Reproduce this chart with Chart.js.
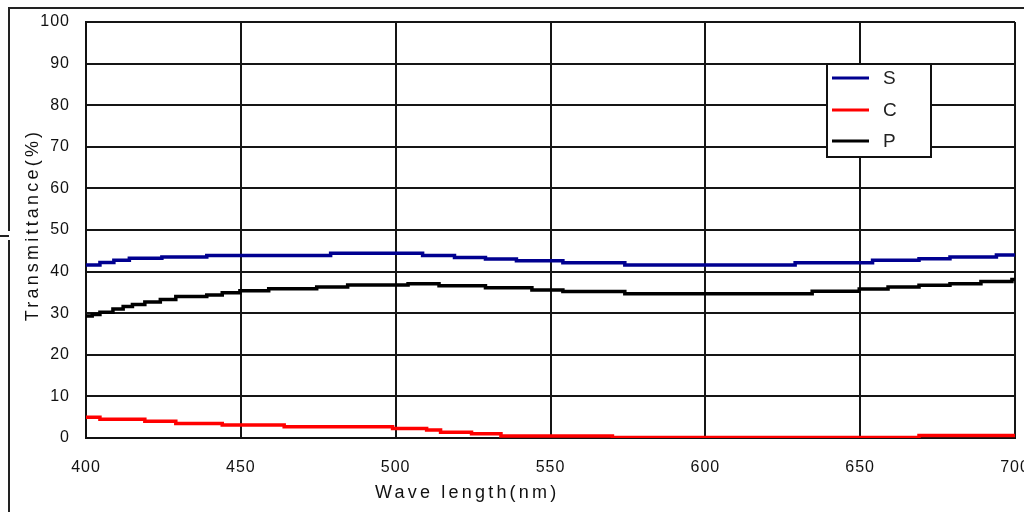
<!DOCTYPE html>
<html><head><meta charset="utf-8">
<script src="https://cdn.jsdelivr.net/npm/chart.js@4/dist/chart.umd.min.js"></script>
<style>html,body{margin:0;padding:0;background:#fff}#wrap{width:1024px;height:512px;position:relative}</style>
</head><body><div id="wrap"><canvas id="c" width="1024" height="512"></canvas></div>
<script>
// Series data: wavelength where each step starts, and transmittance value (%)
const sWave  = [400, 404.5, 409, 414, 424.5, 439, 479, 508.7, 519, 529, 539, 554, 574, 629, 654, 669, 679, 694, 700];
const sValues= [41.6, 42.2, 42.7, 43.2, 43.5, 43.9, 44.4, 43.9, 43.4, 43.0, 42.6, 42.1, 41.6, 42.1, 42.7, 43.1, 43.5, 44.0, 44.0];

const cWave  = [400, 404.5, 419, 429, 444, 464, 499, 510, 514.5, 524.5, 534, 570, 669, 700];
const cValues= [5.0, 4.5, 4.0, 3.5, 3.1, 2.7, 2.3, 1.9, 1.4, 1.0, 0.5, 0.15, 0.6, 0.6];

const pWave  = [400, 402, 404.5, 408.7, 412, 415, 419, 424, 429, 439, 444, 449.7, 459, 474.5, 484.5, 504, 514, 529, 544, 554, 574, 634.5, 649.7, 659, 669, 679, 689, 699, 700];
const pValues= [29.3, 29.7, 30.2, 31.0, 31.6, 32.1, 32.7, 33.3, 34.0, 34.4, 34.9, 35.4, 35.9, 36.3, 36.8, 37.1, 36.6, 36.1, 35.6, 35.2, 34.7, 35.3, 35.8, 36.3, 36.7, 37.1, 37.6, 38.1, 38.1];

const seriesNames = ['S', 'C', 'P'];
const seriesColors = ['#000090', '#ff0000', '#000000'];
const xTicks = [400, 450, 500, 550, 600, 650, 700];
const yTicks = [0, 10, 20, 30, 40, 50, 60, 70, 80, 90, 100];
const xTitle = 'Wave length(nm)';
const yTitle = 'Transmittance(%)';

const toPts = (xs, ys) => xs.map((x, i) => ({x: x, y: ys[i]}));
const seriesData = [toPts(sWave, sValues), toPts(cWave, cValues), toPts(pWave, pValues)];

const FONT = '"Liberation Sans", Arial, sans-serif';

const decor = {
  id: 'decor',
  beforeDraw(chart) {
    chart.ctx.letterSpacing = '1px';
  },
  afterDraw(chart) {
    const ctx = chart.ctx;
    ctx.save();
    // outer frame
    ctx.strokeStyle = '#222';
    ctx.lineWidth = 2;
    ctx.beginPath();
    ctx.moveTo(9, 512); ctx.lineTo(9, 240);
    ctx.moveTo(9, 231); ctx.lineTo(9, 8); ctx.lineTo(1024, 8);
    ctx.moveTo(0, 236); ctx.lineTo(9, 236);
    ctx.stroke();

    // axis titles
    ctx.fillStyle = '#111';
    ctx.font = '18px ' + FONT;
    ctx.letterSpacing = '3.2px';
    ctx.textBaseline = 'middle';
    ctx.textAlign = 'left';
    ctx.fillText(xTitle, 375, 493);
    ctx.save();
    ctx.translate(33, 225);
    ctx.rotate(-Math.PI / 2);
    ctx.textAlign = 'center';
    ctx.fillText(yTitle, 0, 0);
    ctx.restore();

    // legend
    ctx.letterSpacing = '0px';
    ctx.fillStyle = '#fff';
    ctx.fillRect(827, 64, 104, 93);
    ctx.strokeStyle = '#111';
    ctx.lineWidth = 2;
    ctx.strokeRect(827, 64, 104, 93);
    const ys = [78, 110, 141];
    chart.data.datasets.forEach((ds, i) => {
      ctx.strokeStyle = ds.borderColor;
      ctx.lineWidth = 3;
      ctx.beginPath();
      ctx.moveTo(832, ys[i]); ctx.lineTo(869, ys[i]);
      ctx.stroke();
      ctx.fillStyle = '#222';
      ctx.font = '19px ' + FONT;
      ctx.textAlign = 'left';
      ctx.textBaseline = 'middle';
      ctx.fillText(ds.label, 883, ys[i] + 1);
    });
    ctx.restore();
  }
};

new Chart(document.getElementById('c'), {
  type: 'line',
  data: {
    datasets: seriesNames.map((n, i) => ({
      label: n,
      data: seriesData[i],
      borderColor: seriesColors[i],
      backgroundColor: seriesColors[i],
      borderWidth: 3.5,
      pointRadius: 0,
      stepped: 'before',
      fill: false
    }))
  },
  options: {
    responsive: false,
    animation: false,
    events: [],
    layout: { padding: { top: 22, right: 9, left: 0, bottom: 0 } },
    plugins: { legend: { display: false }, tooltip: { enabled: false } },
    scales: {
      x: {
        type: 'linear', min: 400, max: 700,
        afterBuildTicks: s => { s.ticks = xTicks.map(v => ({value: v})); },
        afterFit: s => { s.height = 74; s.paddingLeft = 0; s.paddingRight = 0; },
        grid: { color: '#151515', lineWidth: 2, drawTicks: false },
        border: { color: '#111', width: 2 },
        ticks: { color: '#111', font: { size: 16, family: FONT }, padding: 20, maxRotation: 0, autoSkip: false }
      },
      y: {
        min: 0, max: 100,
        afterBuildTicks: s => { s.ticks = yTicks.map(v => ({value: v})); },
        afterFit: s => { s.width = 86; s.paddingTop = 0; s.paddingBottom = 0; },
        grid: { color: '#151515', lineWidth: 2, drawTicks: false },
        border: { color: '#111', width: 2 },
        ticks: { color: '#111', font: { size: 16, family: FONT }, padding: 16 }
      }
    }
  },
  plugins: [decor]
});
</script>
</body></html>
